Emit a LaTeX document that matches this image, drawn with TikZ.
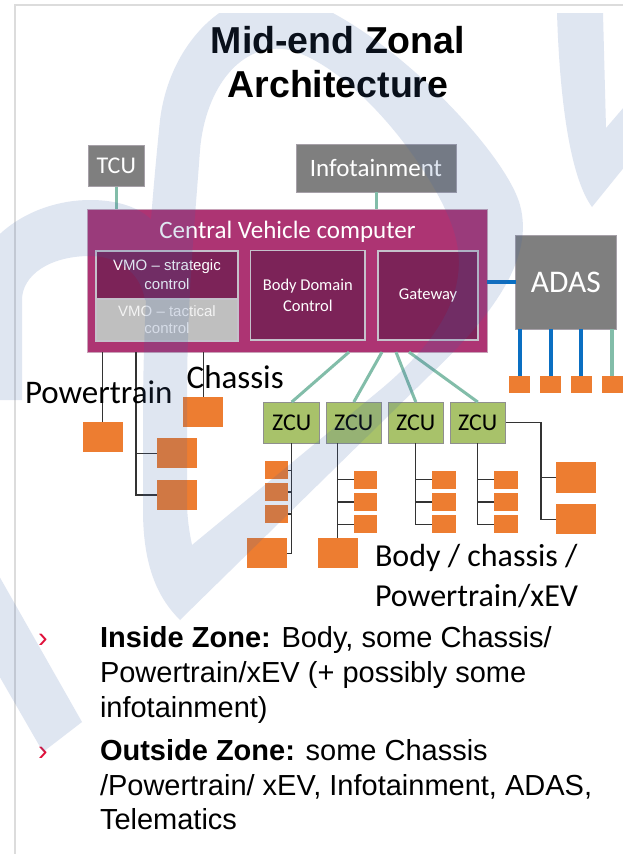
\documentclass[tikz,border=0pt]{standalone}
\usepackage{fontspec}
\setmainfont{Liberation Sans}
\newfontfamily\calib{Carlito}
\usetikzlibrary{calc}

\newcommand\fsz[2]{\fontsize{#1pt}{#2pt}\selectfont}

\definecolor{boxgray}{HTML}{7F7F7F}
\definecolor{grayedge}{HTML}{A6A0A8}
\definecolor{cvcpink}{HTML}{AD3473}
\definecolor{cvcedge}{HTML}{C8A2B8}
\definecolor{cvcdark}{HTML}{7C2358}
\definecolor{subedge}{HTML}{C5C1CB}
\definecolor{vmogray}{HTML}{BFBFBF}
\definecolor{vmotext}{HTML}{F4F4F4}
\definecolor{ecuorange}{HTML}{ED7D31}
\definecolor{zcugreen}{HTML}{A8C26A}
\definecolor{zcuedge}{HTML}{8F8F8F}
\definecolor{linkteal}{HTML}{82BDA9}
\definecolor{linkblue}{HTML}{0A6FC2}
\definecolor{wiregray}{HTML}{333333}
\definecolor{bulletred}{HTML}{E0103A}
\definecolor{markblue}{HTML}{3C64AA}
\definecolor{framegray}{HTML}{DCDCDC}

\begin{document}
\begin{tikzpicture}[x=1pt,y=-1pt,
  every node/.style={inner sep=0pt, outer sep=0pt},
  gbox/.style={draw=grayedge, line width=0.8pt, fill=boxgray, text=white},
  subbox/.style={draw=subedge, line width=1.2pt, fill=cvcdark, text=white, align=center},
  ecubig/.style={fill=ecuorange, minimum width=40pt, minimum height=30.4pt},
  ecusmall/.style={fill=ecuorange, minimum width=23.4pt, minimum height=18.3pt},
  ecutiny/.style={fill=ecuorange, minimum width=21pt, minimum height=16.7pt},
  zcubox/.style={draw=zcuedge, line width=1pt, fill=zcugreen, minimum width=55.5pt,
                 minimum height=41.3pt, font=\calib\fsz{24}{29}},
  tealwire/.style={draw=linkteal, line width=3pt},
  bluewire/.style={draw=linkblue, line width=4pt},
  wire/.style={draw=wiregray, line width=1.3pt},
  bigtag/.style={anchor=base west, font=\calib\fsz{33}{40}},
  bodytext/.style={anchor=base west, font=\fsz{29}{35}},
  chevron/.style={anchor=base west, text=bulletred, font=\fsz{29}{35}},
]
\useasboundingbox (0,0) rectangle (623,854);
\fill[white] (0,0) rectangle (623,854);

% slide frame
\draw[framegray, line width=2pt] (15,854) -- (15,5) -- (623,5);

% title
\node[anchor=base, font=\bfseries\fsz{37.5}{44}] (title1) at (338,53) {Mid-end Zonal};
\node[anchor=base, font=\bfseries\fsz{37.5}{44}] (title2) at (338,97) {Architecture};

% outer domain controllers
\node[gbox, minimum width=55.7pt, minimum height=41.7pt, font=\calib\fsz{24}{29}] (TCU) at (116.2,165.8) {TCU};
\node[gbox, minimum width=160pt, minimum height=48pt, font=\calib\fsz{25}{30}] (INF) at (376,168) {Infotainment};
\node[gbox, minimum width=100.3pt, minimum height=94.3pt, font=\calib\fsz{31.5}{38}] (ADAS) at (565.8,282.2) {ADAS};

% central vehicle computer
\node[draw=cvcedge, line width=1pt, fill=cvcpink, minimum width=400pt, minimum height=142.7pt] (CVC) at (287.3,280.7) {};
\node[anchor=base, text=white, font=\calib\fsz{25}{30}] (CVCT) at (287.5,238) {Central Vehicle computer};
\node[subbox, minimum width=142pt, minimum height=48pt, font=\fsz{15}{19}] (VMOS) at (167,275) {VMO – strategic\\control};
\node[subbox, fill=vmogray, text=vmotext, minimum width=142pt, minimum height=42pt, font=\fsz{15}{17}] (VMOT) at (167,320) {VMO – tactical\\control};
\node[subbox, minimum width=114.3pt, minimum height=89.3pt, font=\calib\fsz{16.5}{20.5}] (BDC) at (307.8,295.3) {Body Domain\\Control};
\node[subbox, minimum width=100pt, minimum height=89pt, font=\calib\fsz{16.5}{20}] (GW) at (428,295.5) {Gateway};

% links to the central computer
\draw[tealwire] (TCU.south) -- (TCU.south |- CVC.north);
\draw[tealwire] (INF.south) -- (INF.south |- CVC.north);
\draw[bluewire] (CVC.east |- ADAS.west) -- (ADAS.west);

% ADAS sensors
\node[ecutiny] (AD1) at (519.5,384.4) {};
\node[ecutiny] (AD2) at (550.5,384.4) {};
\node[ecutiny] (AD3) at (581.2,384.4) {};
\node[ecutiny] (AD4) at (612.2,384.4) {};
\foreach \n in {AD1,AD2,AD3} \draw[bluewire] (ADAS.south -| \n.north) -- (\n.north);
\draw[draw=linkteal, line width=4pt] (ADAS.south -| AD4.north) -- (AD4.north);

% powertrain and chassis ECUs
\node[ecubig] (PT1) at (102.7,437) {};
\node[ecubig] (PT2) at (177.2,453.2) {};
\node[ecubig] (PT3) at (177.2,495) {};
\node[ecubig] (CH1) at (203.2,411.7) {};
\coordinate (ptbus) at (136,495);
\draw[wire] (CVC.south -| PT1.north) -- (PT1.north);
\draw[wire] (CVC.south -| ptbus) -- (ptbus) -- (PT3.west);
\draw[wire] (PT2.west -| ptbus) -- (PT2.west);
\draw[wire] (CVC.south -| CH1.north) -- (CH1.north);
\node[bigtag] (lblPT) at (25,403) {Powertrain};
\node[bigtag] (lblCH) at (186.7,388.3) {Chassis};

% zonal control units
\node[zcubox] (Z1) at (291.7,422.7) {ZCU};
\node[zcubox] (Z2) at (353.8,422.7) {ZCU};
\node[zcubox] (Z3) at (415.8,422.7) {ZCU};
\node[zcubox] (Z4) at (477.8,422.7) {ZCU};
\path (CVC.south west) ++(261.7,0) coordinate (cz1);
\path (CVC.south west) ++(294.7,0) coordinate (cz2);
\path (CVC.south west) ++(308.7,0) coordinate (cz3);
\path (CVC.south west) ++(321.7,0) coordinate (cz4);
\draw[tealwire] (cz1) -- (Z1.north);
\draw[tealwire] (cz2) -- (Z2.north);
\draw[tealwire] (cz3) -- (Z3.north);
\draw[tealwire] (cz4) -- (Z4.north);

% zone 1
\node[ecusmall] (Z1a) at (276.2,470.2) {};
\node[ecusmall] (Z1b) at (276.2,491.9) {};
\node[ecusmall] (Z1c) at (276.2,513.9) {};
\node[ecubig] (Z1d) at (266.7,553.2) {};
\draw[wire] (Z1.south) |- (Z1d.east);
\foreach \n in {Z1a,Z1b,Z1c} \draw[wire] (\n.east) -- (\n.east -| Z1.south);

% zone 2
\node[ecusmall] (Z2a) at (365.7,479.8) {};
\node[ecusmall] (Z2b) at (365.7,502) {};
\node[ecusmall] (Z2c) at (365.7,524.2) {};
\node[ecubig] (Z2d) at (337.7,553) {};
\draw[wire] (Z2d.north |- Z2.south) -- (Z2d.north);
\foreach \n in {Z2a,Z2b,Z2c} \draw[wire] (\n.west) -- (\n.west -| Z2d.north);

% zone 3
\node[ecusmall] (Z3a) at (444,479.8) {};
\node[ecusmall] (Z3b) at (444,502) {};
\node[ecusmall] (Z3c) at (444,524.2) {};
\draw[wire] (Z3.south) |- (Z3c.west);
\foreach \n in {Z3a,Z3b} \draw[wire] (\n.west) -- (\n.west -| Z3.south);

% zone 4
\node[ecusmall] (Z4a) at (506,479.8) {};
\node[ecusmall] (Z4b) at (506,502) {};
\node[ecusmall] (Z4c) at (506,524.2) {};
\draw[wire] (Z4.south) |- (Z4c.west);
\foreach \n in {Z4a,Z4b} \draw[wire] (\n.west) -- (\n.west -| Z4.south);
\node[ecubig] (Z4e) at (575.7,477.5) {};
\node[ecubig] (Z4f) at (575.7,519.2) {};
\coordinate (z4bus) at (541,519.2);
\draw[wire] (Z4.east) -| (z4bus) -- (Z4f.west);
\draw[wire] (Z4e.west -| z4bus) -- (Z4e.west);

\node[anchor=base west, font=\calib\fsz{32}{40}] (lblBC1) at (375,566.7) {Body / chassis /};
\node[anchor=base west, font=\calib\fsz{32}{40}] (lblBC2) at (375,606.7) {Powertrain/xEV};

% bullet list
\node[chevron] (bul1) at (38,647) {›};
\node[bodytext] (t11) at (100,647) {\textbf{Inside Zone:} Body, some Chassis/};
\node[bodytext] (t12) at (100,682) {Powertrain/xEV (+ possibly some};
\node[bodytext] (t13) at (100,717) {infotainment)};
\node[chevron] (bul2) at (38,760) {›};
\node[bodytext] (t21) at (100,760) {\textbf{Outside Zone:} some Chassis};
\node[bodytext] (t22) at (100,795) {/Powertrain/ xEV, Infotainment, ADAS,};
\node[bodytext] (t23) at (100,829) {Telematics};

% translucent watermark laid over the slide: one nonzero fill, so
% overlapping parts are tinted only once
\begin{scope}
  \clip (0,13) rectangle (623,854);
  \fill[markblue, fill opacity=0.16, nonzero rule]
    % teardrop loop, outer edge
    (180,620) -- (430,375) .. controls (490,318) and (535,260) .. (520,205)
    .. controls (505,150) and (380,20) .. (290,-5)
    .. controls (230,-15) and (170,40) .. (160,120)
    .. controls (152,200) and (143,300) .. (143,420)
    -- (143,510) .. controls (143,570) and (160,600) .. (180,620) -- cycle
    % its hole, traced the other way round
    (192,545) .. controls (190,535) and (187,520) .. (187,500)
    -- (187,400) .. controls (187,300) and (195,220) .. (200,150)
    .. controls (205,90) and (240,40) .. (290,50)
    .. controls (360,70) and (440,180) .. (455,235)
    .. controls (470,290) and (440,340) .. (380,390) -- (192,545) -- cycle
    % arch on the left, joining the loop
    (-30,400) -- (22,400) -- (22,300)
    .. controls (22,275) and (50,256) .. (90,256)
    .. controls (115,256) and (140,270) .. (145,300) -- (170,300) -- (170,260)
    .. controls (165,215) and (130,200) .. (90,200)
    .. controls (30,200) and (-30,240) .. (-30,300) -- cycle
    % narrow V at the top right
    (557,13) -- (603,13) -- (606,128) -- (630,100) -- (630,160)
    -- (592,207) .. controls (572,180) and (560,110) .. (557,13) -- cycle
    % wedge at the bottom left
    (-10,560) -- (82,722) -- (43,752) -- (-10,660) -- cycle;
\end{scope}
\end{tikzpicture}
\end{document}
